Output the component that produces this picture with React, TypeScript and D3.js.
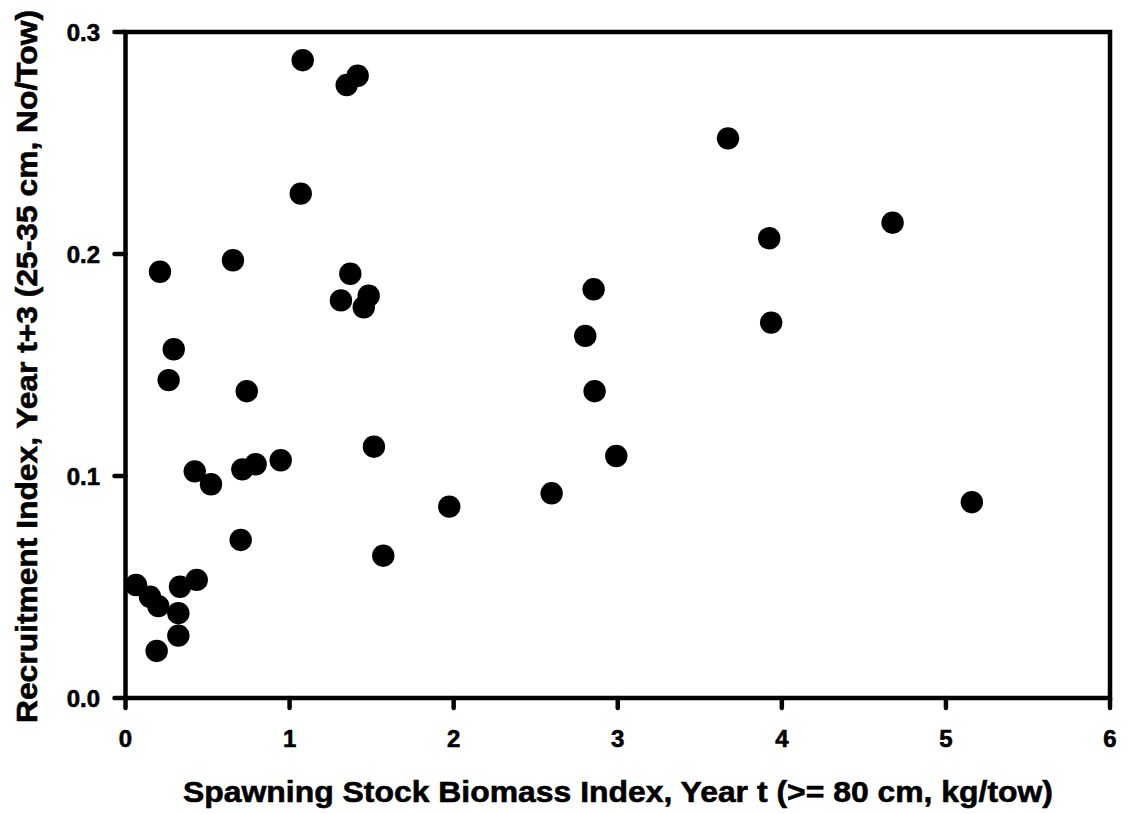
import React from "react";
import * as d3 from "d3";

const ssbIndex = [
  0.064, 0.149, 0.2, 0.19, 0.322, 0.322, 0.332, 0.434, 0.422, 0.521,
  0.702, 0.712, 0.793, 0.946, 0.739, 0.263, 0.294, 0.21, 0.655, 1.068,
  1.08, 1.348, 1.415, 1.313, 1.37, 1.482, 1.452, 1.514, 1.571, 1.973,
  2.597, 2.802, 2.853, 2.859, 2.991, 3.672, 3.923, 3.935, 4.675, 5.158,
];
const recruitIndex = [
  0.0509, 0.0456, 0.0414, 0.0212, 0.0281, 0.0382, 0.0501, 0.0532, 0.1021, 0.0963,
  0.0712, 0.103, 0.1053, 0.1071, 0.1382, 0.1432, 0.1571, 0.192, 0.1972, 0.2272,
  0.2873, 0.2761, 0.2803, 0.1791, 0.1911, 0.1812, 0.176, 0.1132, 0.0641, 0.0862,
  0.0922, 0.1631, 0.1841, 0.1382, 0.109, 0.2521, 0.2071, 0.1691, 0.2141, 0.0882,
];
const xTicks = [0, 1, 2, 3, 4, 5, 6];
const yTicks = [0.0, 0.1, 0.2, 0.3];
const xTitle = "Spawning Stock Biomass Index, Year t (>= 80 cm, kg/tow)";
const yTitle = "Recruitment Index, Year t+3 (25-35 cm, No/Tow)";

const W = 1131;
const H = 814;
const left = 125.5;
const right = 1110;
const top = 32;
const bottom = 698;

export default function App() {
  const x = d3.scaleLinear().domain([0, 6]).range([left, right]);
  const y = d3.scaleLinear().domain([0, 0.3]).range([bottom, top]);
  const font = "'Liberation Sans', Arial, sans-serif";
  const points = ssbIndex.map((v, i) => ({ x: v, y: recruitIndex[i] }));

  return (
    <div style={{ position: "absolute", left: 0, top: 0 }}>
      <svg width={W} height={H} style={{ display: "block", background: "#fff" }}>
        {xTicks.map((t) => (
          <g key={"xt" + t}>
            <line x1={x(t)} x2={x(t)} y1={bottom} y2={bottom + 10} stroke="#000" strokeWidth={4.5} strokeLinecap="round" />
            <text x={x(t)} y={747} textAnchor="middle" fontFamily={font} fontWeight="bold" fontSize={24} fill="#000" stroke="#000" strokeWidth={0.6}>
              {d3.format("d")(t)}
            </text>
          </g>
        ))}
        {yTicks.map((t) => (
          <g key={"yt" + t}>
            <line x1={left - 11} x2={left} y1={y(t)} y2={y(t)} stroke="#000" strokeWidth={4.5} strokeLinecap="round" />
            <text x={100} y={y(t) + 8.5} textAnchor="end" fontFamily={font} fontWeight="bold" fontSize={24} fill="#000" stroke="#000" strokeWidth={0.6}>
              {d3.format(".1f")(t)}
            </text>
          </g>
        ))}
        <rect x={left} y={top} width={right - left} height={bottom - top} fill="none" stroke="#000" strokeWidth={4.5} />
        {points.map((p, i) => (
          <circle key={i} cx={x(p.x)} cy={y(p.y)} r={11.2} fill="#000" />
        ))}
        <text
          x={618}
          y={802}
          textAnchor="middle"
          fontFamily={font}
          fontWeight="bold"
          fontSize={30}
          textLength={870}
          lengthAdjust="spacingAndGlyphs"
          fill="#000"
          stroke="#000"
          strokeWidth={0.6}
        >
          {xTitle}
        </text>
        <text
          transform={`translate(37,366.5) rotate(-90)`}
          textAnchor="middle"
          fontFamily={font}
          fontWeight="bold"
          fontSize={30}
          textLength={713}
          lengthAdjust="spacingAndGlyphs"
          fill="#000"
          stroke="#000"
          strokeWidth={0.6}
        >
          {yTitle}
        </text>
      </svg>
    </div>
  );
}
